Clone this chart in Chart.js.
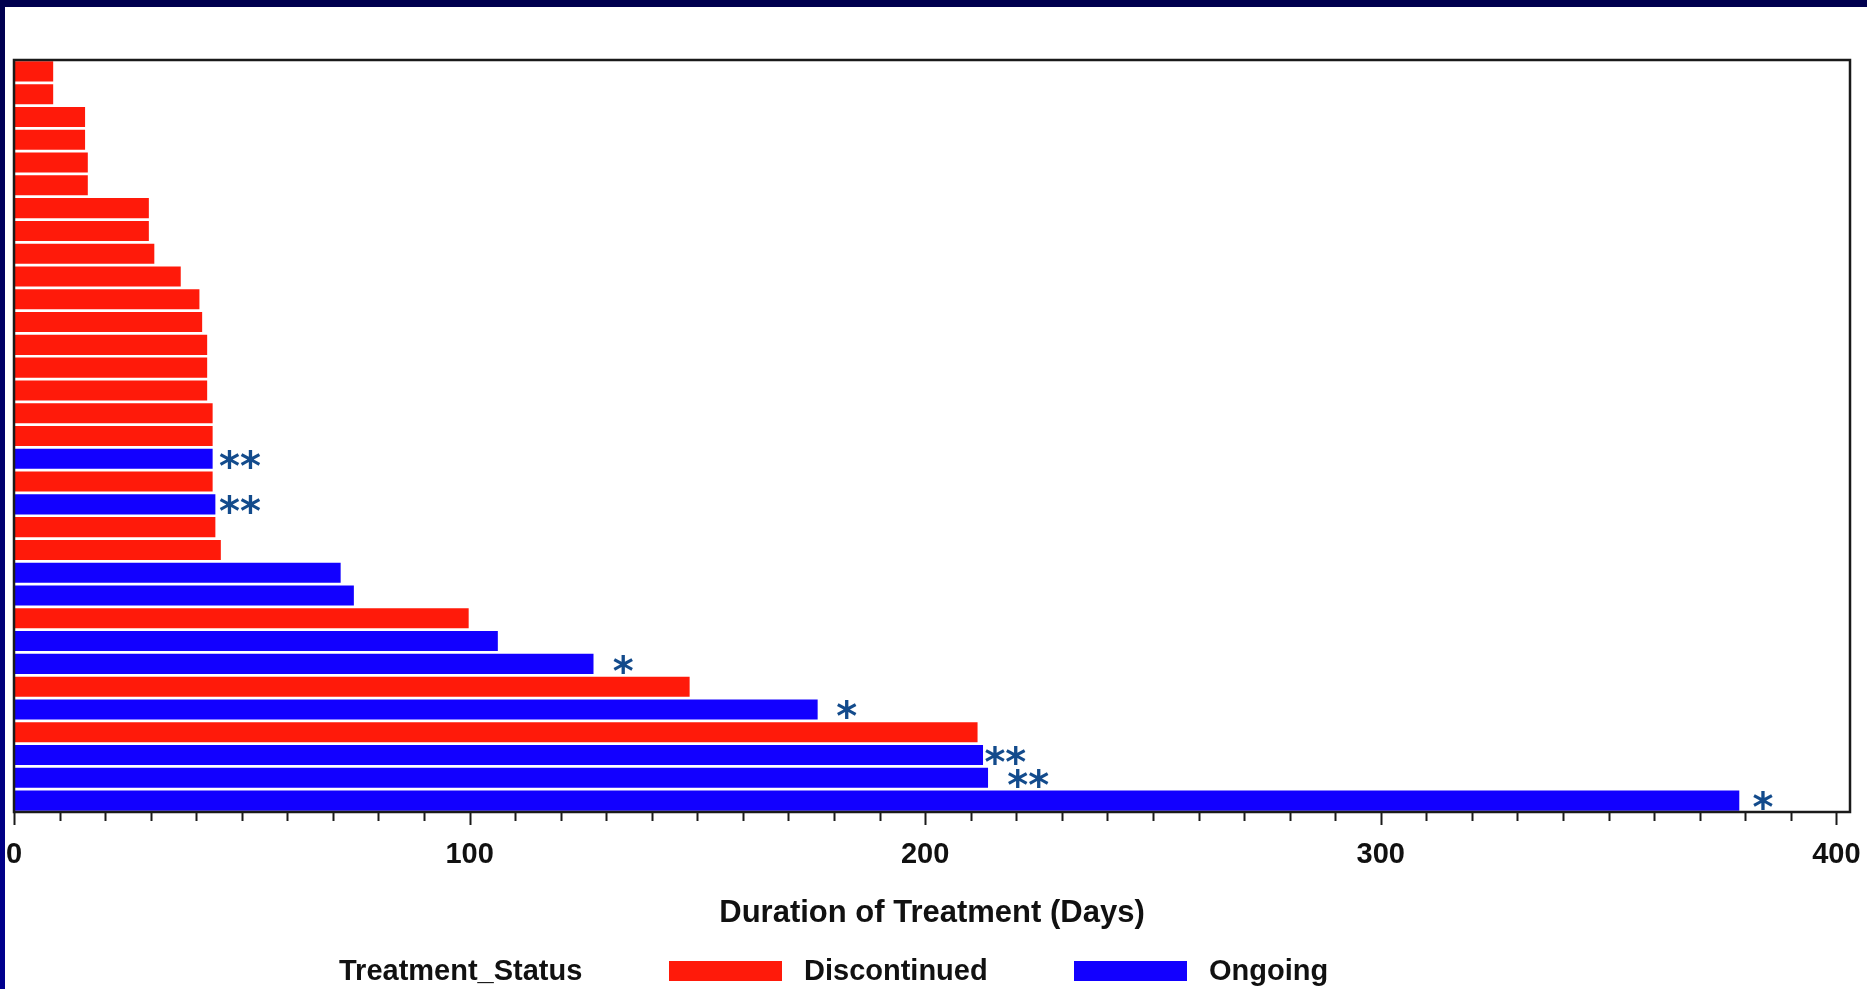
<!DOCTYPE html>
<html>
<head>
<meta charset="utf-8">
<script src="https://cdn.jsdelivr.net/npm/chart.js@4.4.0/dist/chart.umd.min.js"></script>
<style>
    html, body { margin: 0; padding: 0; background: #fff; overflow: hidden; }
    #wrap { width: 1867px; height: 989px; }
</style>
</head>
<body>
<div id="wrap"><canvas id="graphCanvas" width="1867" height="989"></canvas></div>
<script>
// one row per subject, top to bottom
const subjects = ['01', '02', '03', '04', '05', '06', '07', '08', '09', '10', '11',
                  '12', '13', '14', '15', '16', '17', '18', '19', '20', '21', '22',
                  '23', '24', '25', '26', '27', '28', '29', '30', '31', '32', '33'];
const durations = [8.6, 8.6, 15.6, 15.6, 16.2, 16.2, 29.6, 29.6, 30.8, 36.6, 40.7,
                   41.3, 42.4, 42.4, 42.4, 43.6, 43.6, 43.6, 43.6, 44.2, 44.2, 45.4,
                   71.7, 74.6, 99.8, 106.2, 127.2, 148.3, 176.4, 211.5, 212.7, 213.8, 378.7];
const statuses = ['Discontinued', 'Discontinued', 'Discontinued', 'Discontinued', 'Discontinued',
                  'Discontinued', 'Discontinued', 'Discontinued', 'Discontinued', 'Discontinued',
                  'Discontinued', 'Discontinued', 'Discontinued', 'Discontinued', 'Discontinued',
                  'Discontinued', 'Discontinued', 'Ongoing', 'Discontinued', 'Ongoing',
                  'Discontinued', 'Discontinued', 'Ongoing', 'Ongoing', 'Discontinued',
                  'Ongoing', 'Ongoing', 'Discontinued', 'Ongoing', 'Discontinued',
                  'Ongoing', 'Ongoing', 'Ongoing'];
// asterisk markers next to some bars (text and x position in days)
const markerText = ['', '', '', '', '', '', '', '', '', '', '',
                    '', '', '', '', '', '', '**', '', '**', '', '',
                    '', '', '', '', '*', '', '*', '', '**', '**', '*'];
const markerDays = [null, null, null, null, null, null, null, null, null, null, null,
                    null, null, null, null, null, null, 49.6, null, 49.6, null, null,
                    null, null, null, null, 133.7, null, 182.8, null, 217.6, 222.6, 383.9];
const xTickLabels = [0, 100, 200, 300, 400];
const legendLabels = ['Discontinued', 'Ongoing'];

const statusColors = { 'Discontinued': '#ff1a0a', 'Ongoing': '#1200ff' };
const textFont = "'Liberation Sans', Arial, sans-serif";

const framePlugin = {
    id: 'frame',
    beforeDraw(chart) {
        const c = chart.ctx;
        c.save();
        c.fillStyle = '#ffffff';
        c.fillRect(0, 0, chart.width, chart.height);
        c.fillStyle = '#00004f';
        c.fillRect(0, 0, chart.width, 7);
        let g = c.createLinearGradient(0, 0, 0, chart.height);
        g.addColorStop(0, '#00004f');
        g.addColorStop(1, '#00008f');
        c.fillStyle = g;
        c.fillRect(0, 0, 5, chart.height);
        c.restore();
    },
    afterDatasetsDraw(chart) {
        const c = chart.ctx;
        const a = chart.chartArea;
        const x = chart.scales.x;
        const y = chart.scales.y;
        c.save();
        // box round the plot
        c.strokeStyle = '#1a1a1a';
        c.lineWidth = 2.5;
        c.strokeRect(a.left, a.top, a.right - a.left, a.bottom - a.top);
        // tick marks, longer on labelled ticks
        c.lineWidth = 2;
        x.ticks.forEach(t => {
            const px = Math.round(x.getPixelForValue(t.value)) + 0.5;
            const len = xTickLabels.includes(t.value) ? 13 : 9;
            c.beginPath();
            c.moveTo(px, a.bottom);
            c.lineTo(px, a.bottom + len);
            c.stroke();
        });
        // asterisks
        c.fillStyle = '#134b8c';
        c.font = "bold 40px 'DejaVu Sans', sans-serif";
        c.textAlign = 'center';
        c.textBaseline = 'alphabetic';
        for (let i in markerText) {
            if (!markerText[i]) continue;
            const px = x.getPixelForValue(markerDays[i]);
            const py = y.getPixelForValue(Number(i));
            c.fillText(markerText[i], px, py + 0.52 * 40);
        }
        c.restore();
    },
    afterDraw(chart) {
        // legend row under the axis title
        const c = chart.ctx;
        const cy = 972;
        c.save();
        c.fillStyle = '#111';
        c.font = 'bold 29px ' + textFont;
        c.textBaseline = 'middle';
        c.textAlign = 'left';
        c.fillText('Treatment_Status', 339, cy);
        const spots = [{ box: 669, text: 804 }, { box: 1074, text: 1209 }];
        legendLabels.forEach((lab, k) => {
            c.fillStyle = statusColors[lab];
            c.fillRect(spots[k].box, cy - 11, 113, 20);
            c.fillStyle = '#111';
            c.fillText(lab, spots[k].text, cy);
        });
        c.restore();
    }
};

let graphTarget = document.getElementById('graphCanvas');
var barGraph = new Chart(graphTarget, {
    type: 'bar',
    data: {
        labels: subjects,
        datasets: [{
            label: 'Duration of Treatment',
            data: durations,
            backgroundColor: statuses.map(s => statusColors[s]),
            borderWidth: 0,
            categoryPercentage: 1.0,
            barPercentage: 0.88
        }]
    },
    options: {
        indexAxis: 'y',
        responsive: false,
        devicePixelRatio: 1,
        animation: false,
        layout: { padding: { left: 14, right: 17, top: 60, bottom: 57 } },
        plugins: {
            legend: { display: false },
            tooltip: { enabled: false }
        },
        scales: {
            y: { display: false },
            x: {
                type: 'linear',
                min: 0,
                max: 403,
                ticks: {
                    stepSize: 10,
                    includeBounds: false,
                    autoSkip: false,
                    maxRotation: 0,
                    padding: 0,
                    color: '#111',
                    font: { family: textFont, size: 29, weight: 'bold' },
                    callback: v => xTickLabels.includes(v) ? String(v) : ''
                },
                grid: {
                    drawOnChartArea: false,
                    drawTicks: true,
                    tickLength: 26,
                    tickColor: 'rgba(0,0,0,0)'
                },
                border: { display: false },
                title: {
                    display: true,
                    text: 'Duration of Treatment (Days)',
                    color: '#111',
                    font: { family: textFont, size: 31, weight: 'bold' },
                    padding: { top: 22, bottom: 0 }
                }
            }
        }
    },
    plugins: [framePlugin]
});
</script>
</body>
</html>
